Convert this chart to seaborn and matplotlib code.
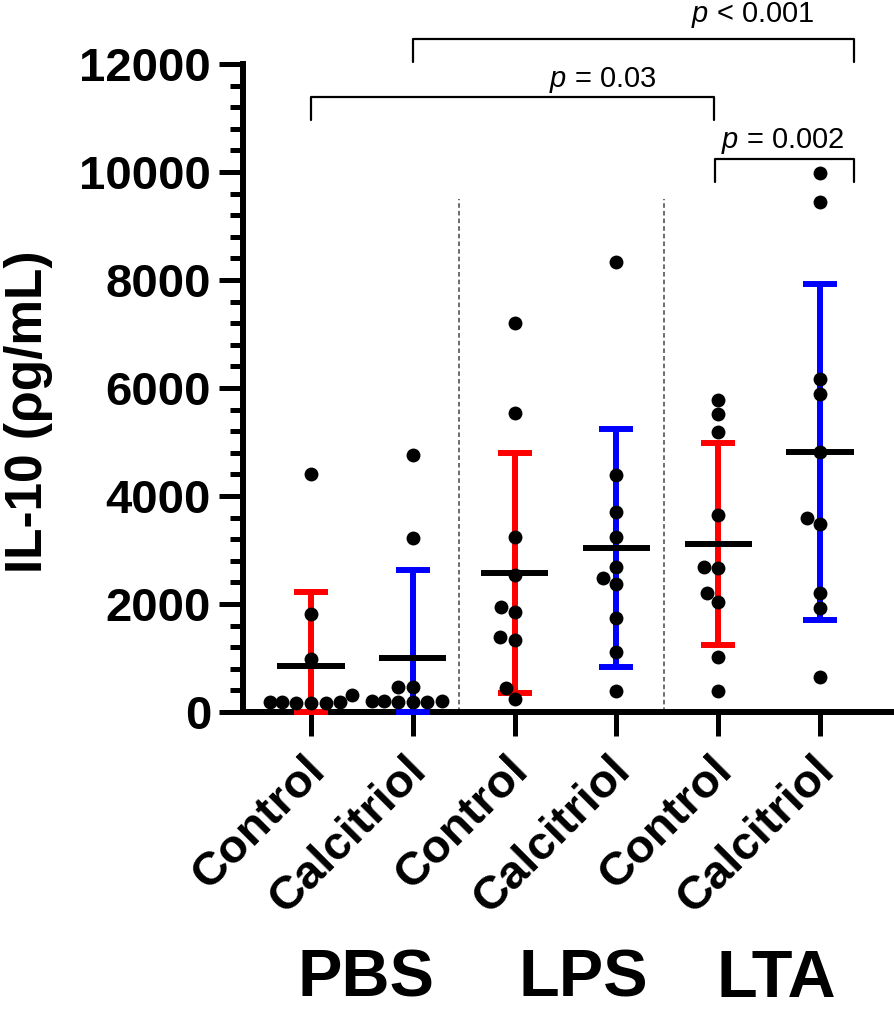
import matplotlib
matplotlib.use("Agg")
import matplotlib.pyplot as plt
import matplotlib.transforms as mtransforms
from matplotlib.ticker import MultipleLocator
import seaborn as sns
import pandas as pd
import numpy as np

# ---- data ----
stimuli = ["PBS", "LPS", "LTA"]
stimulus_label_x = [0.54, 2.67, 4.57]
treatments = ["Control", "Calcitriol"]

pbs_control = [4410, 1815, 980, 315, 190, 185, 180, 175, 170, 165]
pbs_calcitriol = [4765, 3220, 470, 465, 205, 200, 195, 190, 185, 180]
lps_control = [7204, 5537, 3241, 2537, 1944, 1852, 1389, 1333, 444, 240]
lps_calcitriol = [8333, 4389, 3704, 3241, 2685, 2481, 2370, 1741, 1111, 389]
lta_control = [5770, 5510, 5180, 3650, 2690, 2670, 2210, 2040, 1010, 390]
lta_calcitriol = [9976, 9450, 6161, 5889, 4815, 3599, 3488, 2210, 1932, 654]

group_values = [pbs_control, pbs_calcitriol, lps_control,
                lps_calcitriol, lta_control, lta_calcitriol]

# comparisons: (left end, right end, label, label x, bracket height, text gap)
comparisons = [(1, 5.33, "$p$ < 0.001", 4.34, 12460, 170),
               (0, 3.96, "$p$ = 0.03", 2.87, 11380, 50),
               (3.97, 5.33, "$p$ = 0.002", 4.63, 10235, 70)]
bracket_drop = 420

bar_colors = {"Control": "#FF0000", "Calcitriol": "#0000FF"}

# ---- build long table ----
rows = []
order = []
for i, stim in enumerate(stimuli):
    for j, trt in enumerate(treatments):
        key = f"{stim} {trt}"
        order.append(key)
        for v in group_values[i * 2 + j]:
            rows.append({"group": key, "stimulus": stim, "treatment": trt, "value": v})
df = pd.DataFrame(rows)

summary = df.groupby("group", sort=False)["value"].agg(["mean", "std"]).reindex(order)

# ---- style ----
sns.set_style("white")
plt.rcParams["font.family"] = ["Liberation Sans", "DejaVu Sans"]
plt.rcParams["mathtext.fontset"] = "custom"
plt.rcParams["mathtext.it"] = "Liberation Sans:italic"
plt.rcParams["mathtext.rm"] = "Liberation Sans"
for key in ["text.color", "axes.labelcolor", "xtick.color", "ytick.color"]:
    plt.rcParams[key] = "black"

fig = plt.figure(figsize=(8.94, 10.16), dpi=100)
ax = fig.add_axes([0.2718, 0.2992, 0.726, 0.6378])

# dashed separators between stimuli
for xs in [1.45, 3.47]:
    ax.plot([xs, xs], [0, 9500], color="#444444", lw=1.1,
            linestyle=(0, (3, 2)), zorder=1)

# error bars (mean +/- SD), lower end clamped at the axis
for k, key in enumerate(order):
    m = summary.loc[key, "mean"]
    s = summary.loc[key, "std"]
    trt = key.split(" ")[1]
    lower = min(s, m)
    ax.errorbar(k, m, yerr=[[lower], [s]], fmt="none",
                ecolor=bar_colors[trt], elinewidth=4.3, capsize=12,
                capthick=4.3, zorder=3, clip_on=False)

sns.swarmplot(data=df, x="group", y="value", order=order, color="black",
              size=10, warn_thresh=1, zorder=4, ax=ax)

# mean lines
for k, key in enumerate(order):
    m = summary.loc[key, "mean"]
    ax.plot([k - 0.33, k + 0.33], [m, m], color="black", lw=4.3,
            solid_capstyle="butt", zorder=5)

# axes
ax.set_ylim(0, 12000)
ax.set_xlim(-0.668, 5.707)
ax.yaxis.set_major_locator(MultipleLocator(2000))
ax.yaxis.set_minor_locator(MultipleLocator(400))
for side in ["top", "right"]:
    ax.spines[side].set_visible(False)
for side in ["left", "bottom"]:
    ax.spines[side].set_linewidth(4.3)
    ax.spines[side].set_color("black")

ax.tick_params(axis="y", which="major", length=17, width=3.6, direction="out",
               left=True, pad=6, labelsize=34)
ax.tick_params(axis="y", which="minor", length=9.4, width=3.6, direction="out",
               left=True)
ax.tick_params(axis="x", which="major", length=17, width=3.6, direction="out",
               bottom=True, pad=9)
for lab in ax.get_yticklabels():
    lab.set_fontweight("bold")

ax.set_xticks(range(len(order)))
ax.set_xticklabels([k.split(" ")[1] for k in order], rotation=45, ha="right",
                   va="center", rotation_mode="anchor", fontsize=34,
                   fontweight="bold")
shift = mtransforms.ScaledTranslation(0.07, -0.16, fig.dpi_scale_trans)
for lab in ax.get_xticklabels():
    lab.set_transform(lab.get_transform() + shift)
ax.set_xlabel("")
ax.set_ylabel("IL-10 (\u03c1g/mL)", fontsize=37, fontweight="bold")
ax.yaxis.set_label_coords(-0.293, 0.463)

# stimulus group labels
trans = mtransforms.blended_transform_factory(ax.transData, ax.transAxes)
for stim, sx in zip(stimuli, stimulus_label_x):
    ax.text(sx, -0.413, stim, transform=trans, ha="center",
            va="center", fontsize=48, fontweight="bold")

# significance brackets
for x1, x2, label, tx, h, gap in comparisons:
    ax.plot([x1, x1, x2, x2], [h - bracket_drop, h, h, h - bracket_drop],
            color="black", lw=1.6, clip_on=False, zorder=6)
    ax.text(tx, h + gap, label, ha="center", va="bottom", fontsize=21,
            clip_on=False)

fig.savefig("out.png", dpi=100)
